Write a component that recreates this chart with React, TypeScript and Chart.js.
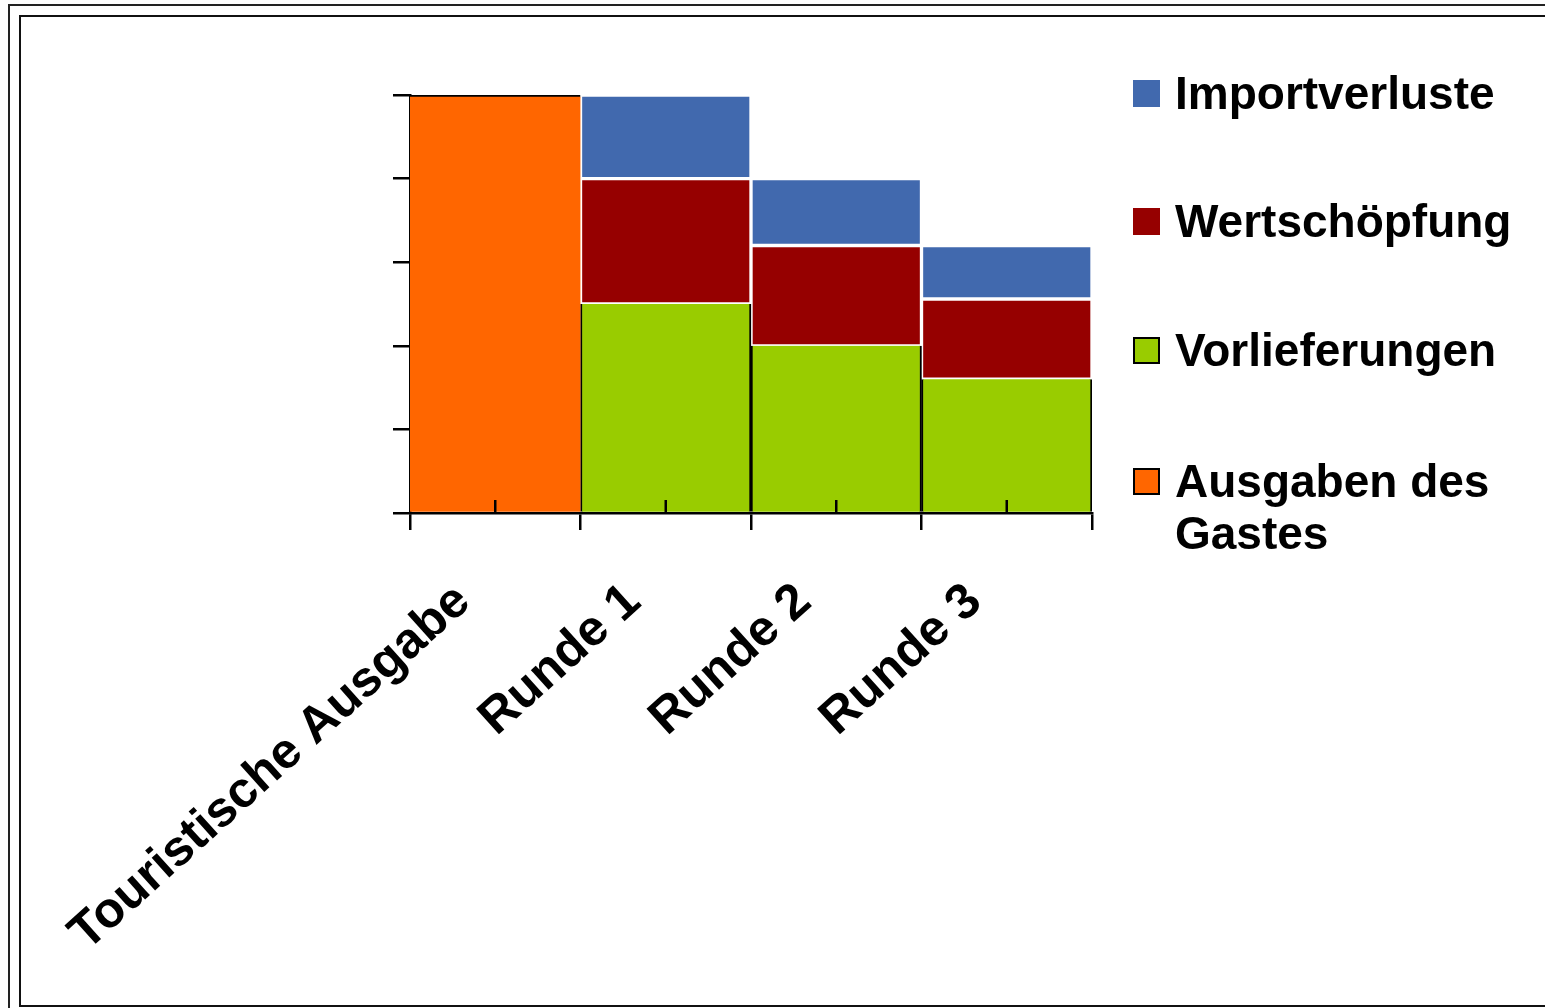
import React, { useEffect, useRef } from "react";
import { Chart, registerables } from "chart.js";

Chart.register(...registerables);

const categories = ["Touristische Ausgabe", "Runde 1", "Runde 2", "Runde 3"];
const ausgabenDesGastes = [100, null, null, null];
const vorlieferungen = [null, 50, 40, 32];
const wertschoepfung = [null, 30, 24, 19.2];
const importverluste = [null, 20, 16, 12.8];
const yMin = 0;
const yMax = 100;
const yStep = 20;

const legendLabels = ["Importverluste", "Wertschöpfung", "Vorlieferungen", "Ausgaben des Gastes"];
const legendColors = ["#4169AE", "#960000", "#99CC00", "#FF6600"];
const legendBorders = ["#4169AE", "#960000", "#000000", "#000000"];

const FONT = "'Liberation Sans', Arial, Helvetica, sans-serif";

const midTicks = {
  id: "midTicks",
  afterDraw(chart: any) {
    const x = chart.scales.x;
    const ctx = chart.ctx;
    ctx.save();
    ctx.strokeStyle = "#000";
    ctx.lineWidth = 2.5;
    for (let i = 0; i < categories.length; i++) {
      const px = x.getPixelForValue(i);
      ctx.beginPath();
      ctx.moveTo(px, x.top);
      ctx.lineTo(px, x.top - 13);
      ctx.stroke();
    }
    ctx.restore();
  },
};

export default function App() {
  const ref = useRef<HTMLCanvasElement | null>(null);

  useEffect(() => {
    if (!ref.current) return;
    const chart = new Chart(ref.current, {
      type: "bar",
      data: {
        labels: categories,
        datasets: [
          {
            label: legendLabels[3],
            data: ausgabenDesGastes,
            backgroundColor: legendColors[3],
            borderColor: "#000",
            borderWidth: { top: 2, left: 0, right: 0, bottom: 0 },
            borderSkipped: false,
          },
          {
            label: legendLabels[2],
            data: vorlieferungen,
            backgroundColor: legendColors[2],
            borderColor: "#000",
            borderWidth: { top: 0, left: 2, right: 2, bottom: 0 },
            borderSkipped: false,
          },
          {
            label: legendLabels[1],
            data: wertschoepfung,
            backgroundColor: legendColors[1],
            borderColor: "#ffffff",
            borderWidth: 2,
            borderSkipped: false,
          },
          {
            label: legendLabels[0],
            data: importverluste,
            backgroundColor: legendColors[0],
            borderColor: "#ffffff",
            borderWidth: 2,
            borderSkipped: false,
          },
        ] as any,
      },
      options: {
        animation: false,
        responsive: false,
        devicePixelRatio: 1,
        layout: { padding: { left: 393, top: 95, right: 453, bottom: 0 } },
        plugins: { legend: { display: false }, tooltip: { enabled: false } },
        datasets: { bar: { categoryPercentage: 1, barPercentage: 1 } },
        scales: {
          x: {
            stacked: true,
            grid: { offset: true, drawOnChartArea: false, tickLength: 17, color: "#000", lineWidth: 2.5 },
            border: { color: "#000", width: 2.5 },
            ticks: {
              color: "#000",
              autoSkip: false,
              minRotation: 42,
              maxRotation: 42,
              padding: 42,
              labelOffset: -32,
              font: { family: FONT, weight: "bold", size: 50 },
            },
            afterFit: (s: any) => {
              s.height = 1008 - 513;
            },
          },
          y: {
            stacked: true,
            min: yMin,
            max: yMax,
            ticks: { stepSize: yStep, display: false },
            grid: { drawOnChartArea: false, tickLength: 17, color: "#000", lineWidth: 2.5 },
            border: { color: "#000", width: 2.5 },
            afterFit: (s: any) => {
              s.width = 17;
            },
          },
        },
      } as any,
      plugins: [midTicks],
    });
    return () => chart.destroy();
  }, []);

  const legendTops = [66.6, 195, 324, 454.6];

  return (
    <div
      style={{
        position: "fixed",
        left: 0,
        top: 0,
        width: 1545,
        height: 1008,
        overflow: "hidden",
        background: "#fff",
        fontFamily: FONT,
      }}
    >
      <div
        style={{
          position: "absolute",
          left: 8,
          top: 4,
          width: 2000,
          height: 2000,
          border: "2px solid #222",
        }}
      />
      <div
        style={{
          position: "absolute",
          left: 19,
          top: 15,
          width: 2000,
          height: 988,
          border: "2px solid #111",
        }}
      />
      <canvas ref={ref} width={1545} height={1008} style={{ position: "absolute", left: 0, top: 0, width: 1545, height: 1008 }} />
      {legendLabels.map((lab, i) => (
        <div
          key={lab}
          style={{
            position: "absolute",
            left: 1175,
            top: legendTops[i],
            width: 370,
            fontSize: 46,
            lineHeight: "52px",
            fontWeight: "bold",
            color: "#000",
          }}
        >
          <span
            style={{
              position: "absolute",
              left: -42,
              top: 13,
              width: 23,
              height: 23,
              background: legendColors[i],
              border: `2px solid ${legendBorders[i]}`,
            }}
          />
          {i === 3 ? (
            <>
              Ausgaben des
              <br />
              Gastes
            </>
          ) : (
            lab
          )}
        </div>
      ))}
    </div>
  );
}
